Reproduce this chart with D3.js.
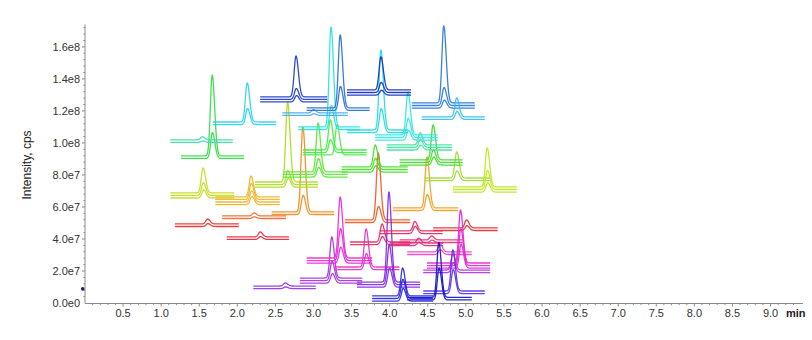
<!DOCTYPE html>
<html>
<head>
<meta charset="utf-8">
<script src="https://cdn.jsdelivr.net/npm/d3@7"></script>
<style>
  html, body { margin: 0; padding: 0; background: #fff; }
  svg { display: block; }
  text { font-family: "Liberation Sans", Arial, sans-serif; }
</style>
</head>
<body>
<svg id="chart" width="812" height="340"></svg>
<script>
// ---------- data (time in min, intensity in units of 1e7 cps) ----------
const xTickValues = [0.5,1.0,1.5,2.0,2.5,3.0,3.5,4.0,4.5,5.0,5.5,6.0,6.5,7.0,7.5,8.0,8.5,9.0];
const yTickValues = [0, 2e7, 4e7, 6e7, 8e7, 1e8, 1.2e8, 1.4e8, 1.6e8];
const intensityUnit = 1e7;

const traceColors = ["#e8332e","#dc2a40","#f06a2c","#c8dc1e","#f0b428","#f08c1e","#aadc1e","#f05a1e","#f0a01e","#dc3232",
  "#a0dc32","#c0e61e","#46dc28","#5ae632","#3cf03c","#50e650","#32dc46","#3cdc28","#3ce69b","#3cdcaa",
  "#28d2f0","#32e6e6","#1edcdc","#28e1e1","#46aaf0","#2a6ed8","#1e3cc8","#1432be","#2878dc","#32bef0",
  "#9632e6","#aa32dc","#e628dc","#e632c8","#e62864","#8228e6","#e6285a","#e6326e","#e62878","#e646be",
  "#b432e6","#e628d2","#2828dc","#5a32e6","#1414c8"];
const traceStart = [1.18,1.86,1.80,1.12,1.71,2.45,2.23,3.41,4.04,4.57,
  4.46,4.83,3.37,2.60,2.86,2.86,1.26,4.13,3.96,1.12,
  1.68,3.81,3.44,2.80,2.59,2.91,2.30,3.44,4.29,4.42,
  2.21,2.82,2.91,3.28,3.48,3.57,3.87,4.13,4.00,4.23,
  4.44,4.49,3.77,4.44,4.23];
const traceEnd = [2.02,2.68,2.64,1.96,2.56,3.27,3.06,4.27,4.90,5.42,
  5.32,5.67,4.24,3.45,3.70,3.70,2.09,4.96,4.82,1.94,
  2.51,4.63,4.24,3.61,3.45,3.74,3.18,4.28,5.12,5.25,
  3.03,3.64,3.77,4.13,4.27,4.40,4.70,4.96,4.70,5.08,
  5.32,5.32,4.57,5.25,5.08];
const traceRT = [1.61,2.30,2.22,1.55,2.18,2.86,2.66,3.85,4.49,5.01,
  4.88,5.28,3.81,3.06,3.22,3.31,1.67,4.57,4.40,1.54,
  2.13,4.24,3.885,3.23,3.00,3.35,2.77,3.885,4.71,4.88,
  2.63,3.24,3.35,3.69,3.90,3.99,4.33,4.55,4.38,4.66,
  4.83,4.93,4.17,4.83,4.645];
const traceBase = [4.94,4.13,5.44,6.88,6.63,5.69,7.56,5.19,5.94,4.69,
  7.81,7.25,8.50,8.19,9.56,9.25,9.19,8.94,9.88,10.19,
  11.31,10.50,10.81,11.00,11.88,12.19,12.88,13.31,12.50,11.63,
  1.06,1.56,2.81,2.25,3.81,1.31,4.50,3.94,3.75,3.19,
  2.06,2.50,0.44,0.75,0.35];
const traceHeights = [[0.31,0.18],[0.31,0.18],[0.19,0.10],[1.56,0.80,0.50],[1.31,1.00,0.70,0.50],[5.31,1.20],[5.00,0.88,0.55],[4.19,1.00],[3.19,1.00],[0.50,0.30],
  [1.63,0.60],[2.44,1.20,0.60],[1.38,0.70,0.40],[3.06,1.00,0.60],[1.88,0.80],[1.90],[5.06,1.62],[2.19,0.80,0.50],[0.75,0.50,0.30],[0.19,0.10],
  [2.44,1.00],[2.69,1.20,0.60],[5.00,1.50],[6.25,1.50],[0.20,0.10],[4.56,1.50],[2.56,0.68,0.40],[2.07,0.63,0.30],[4.81,1.13,0.50],[1.18,0.50],
  [0.19,0.10],[2.57,1.20,0.60],[3.82,2.00,1.00],[2.38,1.00],[1.13,0.50],[5.63,2.50,1.20],[0.60,0.45],[0.25,0.15],[0.30,0.20],[0.50,0.30],
  [1.00,0.60],[3.31,2.30,1.50],[1.75,1.20,0.80],[2.57,1.50],[3.44,2.00]];
const lineSpacing = 0.16;      // vertical gap between parallel transitions (1e7 cps)
const peakSigmaLeft = 0.024;   // min
const peakSigmaRight = 0.032;  // min
const markerPoint = {t: -0.03, v: 0.88};

// ---------- layout ----------
const svg = d3.select("#chart");
const x = d3.scaleLinear().domain([0, 9.4]).range([85, 801]);
const y = d3.scaleLinear().domain([0, 1.74e8]).range([303, 24.5]);

// ---------- traces ----------
const line = d3.line().x(d => x(d[0])).y(d => y(d[1] * intensityUnit));
const gTr = svg.append("g").attr("fill", "none").attr("stroke-width", 1.3).attr("stroke-linejoin", "round");
traceColors.forEach((col, i) => {
  traceHeights[i].forEach((h, k) => {
    const base = traceBase[i] - k * lineSpacing;
    const rt = traceRT[i] + k * 0.004;
    const pts = [];
    for (let t = traceStart[i]; t <= traceEnd[i] + 1e-9; t += 0.004) {
      const s = t < rt ? peakSigmaLeft : peakSigmaRight;
      pts.push([t, base + h * Math.exp(-0.5 * Math.pow((t - rt) / s, 2))]);
    }
    gTr.append("path").attr("d", line(pts)).attr("stroke", col).attr("opacity", 0.92);
  });
});

// ---------- axes ----------
const axisColor = "#8a8a8a";
const gAx = svg.append("g");
gAx.append("line").attr("x1", 85).attr("x2", 85).attr("y1", y(1.74e8)).attr("y2", 303.5).attr("stroke", axisColor);
gAx.append("line").attr("x1", 85).attr("x2", 803).attr("y1", 303.5).attr("y2", 303.5).attr("stroke", axisColor);

// x minor ticks
d3.range(1, 94).forEach(i => {
  const t = i / 10;
  const major = i % 5 === 0;
  gAx.append("line").attr("x1", x(t)).attr("x2", x(t)).attr("y1", 303.5).attr("y2", 303.5 + (major ? 3 : 1.6))
    .attr("stroke", axisColor);
});
// y minor ticks
d3.range(1, 44).forEach(i => {
  const v = i * 4e6;
  const major = i % 5 === 0;
  gAx.append("line").attr("x1", 85).attr("x2", 85 - (major ? 3 : 1.6)).attr("y1", y(v)).attr("y2", y(v))
    .attr("stroke", axisColor);
});

gAx.selectAll("text.xt").data(xTickValues).enter().append("text")
  .attr("x", d => x(d)).attr("y", 317).attr("text-anchor", "middle")
  .attr("font-size", 11).attr("fill", "#333").text(d => d.toFixed(1));
const fmt = d3.format(".1e");
gAx.selectAll("text.yt").data(yTickValues).enter().append("text")
  .attr("x", 80).attr("y", d => y(d) + 4).attr("text-anchor", "end")
  .attr("font-size", 11).attr("fill", "#333").text(d => fmt(d).replace("+", ""));

svg.append("text").attr("x", 786).attr("y", 317).attr("font-size", 11).attr("font-weight", "bold")
  .attr("fill", "#222").text("min");
svg.append("text").attr("transform", "translate(31,165) rotate(-90)").attr("text-anchor", "middle")
  .attr("font-size", 12).attr("fill", "#222").text("Intensity, cps");

svg.append("circle").attr("cx", x(markerPoint.t)).attr("cy", y(markerPoint.v * intensityUnit)).attr("r", 1.8)
  .attr("fill", "#1a1a80");
</script>
</body>
</html>
